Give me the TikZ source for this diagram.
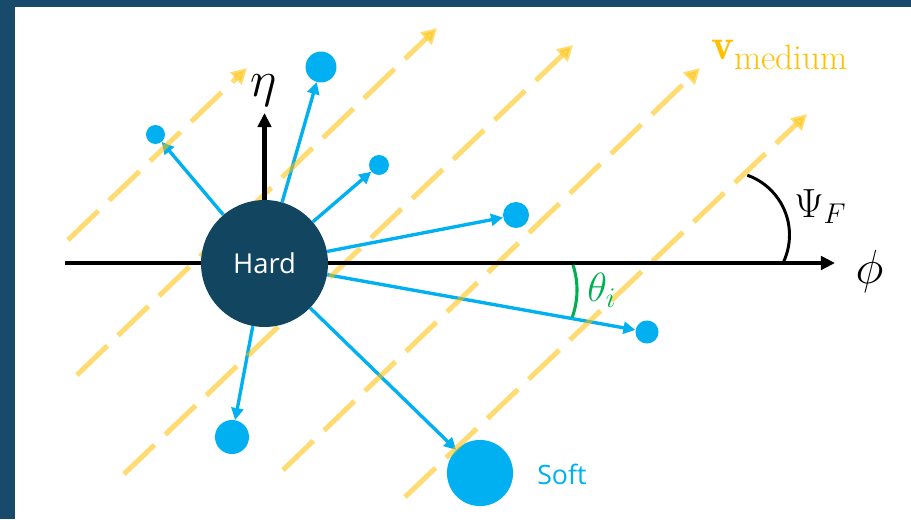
\RequirePackage{fix-cm}
\documentclass[tikz,border=0pt]{standalone}
\usepackage{fontspec}
\newfontfamily\labelfont{Open Sans}
\usetikzlibrary{arrows.meta}

\definecolor{framecol}{HTML}{184B6B}
\definecolor{hardcol}{HTML}{124660}
\definecolor{partblue}{HTML}{00B0F0}
\definecolor{flowyellow}{HTML}{FFC000}
\definecolor{anglegreen}{HTML}{00B050}

\pgfdeclarelayer{sprays}
\pgfdeclarelayer{flows}
\pgfdeclarelayer{axes}
\pgfsetlayers{sprays,flows,axes,main}

\tikzset{
  particle/.style={circle, fill=partblue, inner sep=0pt},
  spray/.style={draw=partblue, line width=2.4pt,
    -{Triangle[length=8.5pt,width=8.5pt]}},
  flow/.style={draw=flowyellow, draw opacity=0.55, fill opacity=0.55,
    line width=3.6pt, dash pattern=on 30pt off 10.5pt,
    -{Triangle[length=11pt,width=11.5pt, fill=flowyellow]}},
  axis/.style={draw=black, line width=2.9pt,
    -{Triangle[length=10pt,width=9.5pt]}},
  mathlabel/.style={inner sep=0pt},
}

\begin{document}
\begin{tikzpicture}[x=0.025cm, y=0.025cm]
\useasboundingbox (0,0) rectangle (911,-519);

% frame bars
\fill[framecol] (0,0) rectangle (911,-7);
\fill[framecol] (0,0) rectangle (15,-519);

% hard parton
\node[circle, fill=hardcol, minimum size=90.3pt, inner sep=0pt,
      text=white, font=\labelfont\fontsize{19.5}{22}\selectfont]
      (H) at (264.5,-263.5) {Hard};

% soft fragments
\begin{pgfonlayer}{sprays}
\node[particle, minimum size=22pt]   (p1) at (321,-67) {};
\node[particle, minimum size=13.5pt] (p2) at (155.5,-134.5) {};
\node[particle, minimum size=14.2pt] (p3) at (379,-165) {};
\node[particle, minimum size=18.5pt] (p4) at (516,-215) {};
\node[particle, minimum size=16.4pt] (p5) at (647,-332) {};
\node[particle, minimum size=24.2pt] (p6) at (232,-437) {};
\node[particle, minimum size=47pt]   (soft) at (480,-473) {};
\foreach \p in {p1,p2,p3,p4,p5,p6,soft}
  \draw[spray] (H) -- (\p);
\end{pgfonlayer}

% medium flow lines
\coordinate (a1) at (68,-240);  \coordinate (a2) at (247,-68);
\coordinate (b1) at (77,-375);  \coordinate (b2) at (437,-28);
\coordinate (c1) at (124,-474); \coordinate (c2) at (573,-45);
\coordinate (d1) at (283,-470); \coordinate (d2) at (700,-68);
\coordinate (e1) at (405,-497); \coordinate (e2) at (807,-114);
\begin{pgfonlayer}{flows}
\draw[flow] (a1) -- (a2);
\draw[flow] (b1) -- (b2);
\draw[flow] (c1) -- (c2);
\draw[flow] (d1) -- (d2);
\draw[flow] (e1) -- (e2);
\end{pgfonlayer}

% axes
\coordinate (phiL) at (65,-263);
\coordinate (phiR) at (835,-263);
\coordinate (etaT) at (264.5,-113);
\begin{pgfonlayer}{axes}
\draw[axis] (phiL) -- (phiR);
\draw[axis] (H.north) -- (etaT);
\end{pgfonlayer}

% angle marks
\coordinate (psiC) at (726,-235);
\coordinate (thC) at (497,-290);
\draw[black, line width=2.1pt] (psiC) ++(-25.5:63.5) arc[start angle=-25.5, end angle=70.4, radius=63.5];
\draw[anglegreen, line width=2.2pt] (thC) ++(18.3:80) arc[start angle=18.3, end angle=-20.1, radius=80];

% labels
\node[mathlabel, font=\fontsize{36}{42}\selectfont] (etaL) at (263.5,-91) {$\eta$};
\node[mathlabel, font=\fontsize{34}{40}\selectfont] (phiLab) at (869.5,-271.5) {$\phi$};
\node[mathlabel, anchor=base west, font=\fontsize{29}{34}\selectfont] (psiL) at (794,-217) {$\Psi_F$};
\node[mathlabel, anchor=base west, text=anglegreen, font=\fontsize{29}{34}\selectfont] (thL) at (587,-301) {$\theta_i$};
\node[mathlabel, anchor=base west, text=flowyellow, font=\fontsize{31}{36}\selectfont] (vL) at (711,-60)
  {$\mathbf{v}_{\hbox{\fontsize{25}{28}\selectfont medium}}$};
\node[mathlabel, anchor=base west, text=partblue, font=\labelfont\fontsize{19}{22}\selectfont] (softL) at (537,-484) {Soft};
\end{tikzpicture}
\end{document}
